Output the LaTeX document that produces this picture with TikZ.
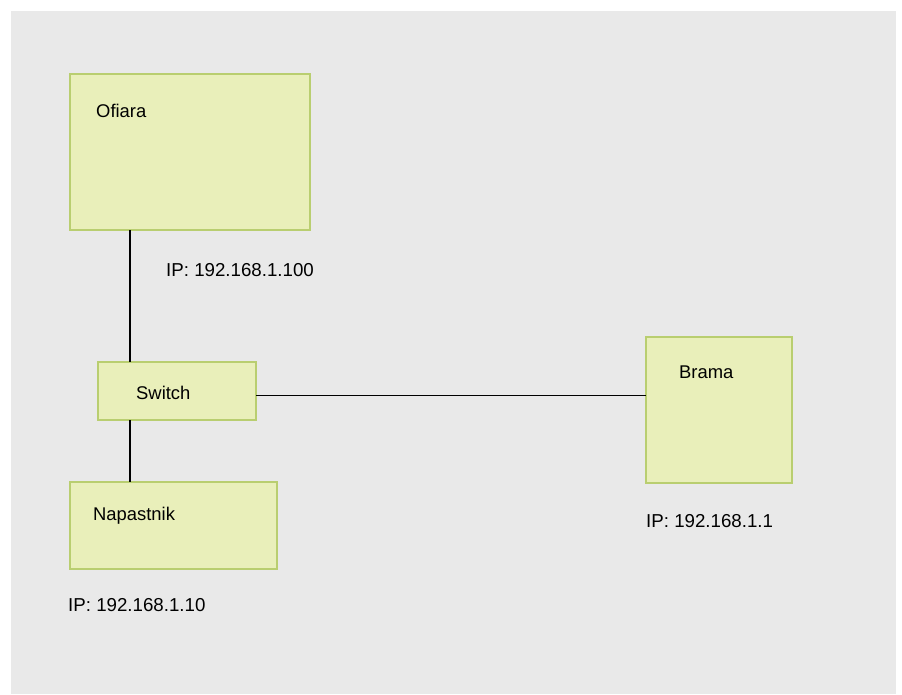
\documentclass[tikz,border=0pt]{standalone}
\usepackage{fontspec}
\setmainfont{Liberation Sans}
\definecolor{bggray}{RGB}{233,233,233}
\definecolor{boxfill}{RGB}{233,239,186}
\definecolor{boxline}{RGB}{185,206,112}
\begin{document}
\begin{tikzpicture}[x=1pt,y=-1pt,
  devbox/.style={draw=boxline,fill=boxfill,line width=1.3pt,inner sep=0pt,outer sep=0pt},
  boxlabel/.style={anchor=west,inner sep=0pt,font=\fontsize{18.4}{20}\selectfont},
  iplabel/.style={anchor=west,inner sep=0pt,font=\fontsize{18.7}{21}\selectfont},
  wire/.style={draw=black,line width=1.5pt}]
\useasboundingbox (0,0) rectangle (902,694);
\fill[bggray] (11,11) rectangle (896,694);
% boxes
\node[devbox,minimum width=240pt,minimum height=156pt] (ofiara) at (190,152) {};
\node[devbox,minimum width=158pt,minimum height=58pt] (switch) at (177,391) {};
\node[devbox,minimum width=146pt,minimum height=146pt] (brama) at (719,410) {};
\node[devbox,minimum width=207pt,minimum height=87pt] (napastnik) at (173.5,525.5) {};
% box labels
\node[boxlabel] (tofiara) at (96,111) {Ofiara};
\node[boxlabel] (tswitch) at (136,393) {Switch};
\node[boxlabel] (tbrama) at (679,372) {Brama};
\node[boxlabel] (tnapastnik) at (93,516) {Napastnik};
% ip labels
\node[iplabel] (ipofiara) at (166,270) {IP: 192.168.1.100};
\node[iplabel] (ipbrama) at (646,521.5) {IP: 192.168.1.1};
\node[iplabel] (ipnapastnik) at (68,605) {IP: 192.168.1.10};
% connectors
\coordinate (sw1) at ([xshift=32pt]switch.north west);
\coordinate (sw2) at ([xshift=32pt]switch.south west);
\draw[wire] (sw1) -- (sw1 |- ofiara.south);
\draw[wire] (sw2) -- (sw2 |- napastnik.north);
\coordinate (sw3) at ([yshift=-4.7pt]switch.east);
\draw[wire] (sw3) -- (sw3 -| brama.west);
\end{tikzpicture}
\end{document}
